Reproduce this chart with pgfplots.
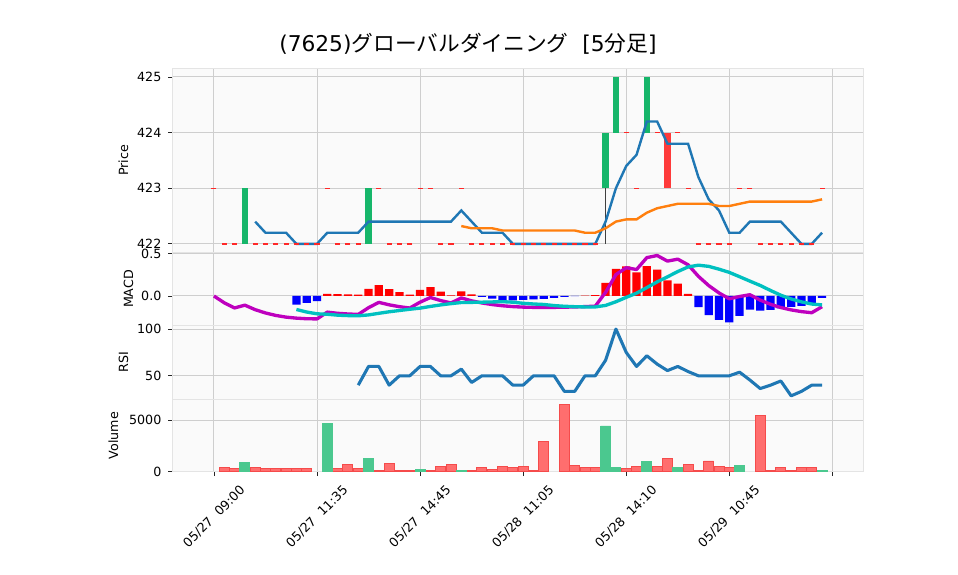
\documentclass[border=0pt]{standalone}
\usepackage{fontspec}
\setmainfont{DejaVu Sans}
\newfontfamily\cjk{Noto Sans CJK JP}
\usepackage{pgfplots}
\pgfplotsset{compat=1.18}

\definecolor{bgc}{RGB}{250,250,250}
\definecolor{gridc}{RGB}{206,206,206}
\definecolor{framec}{RGB}{228,228,228}
\definecolor{upc}{RGB}{22,182,106}
\definecolor{downc}{RGB}{254,58,58}
\definecolor{dojic}{RGB}{255,40,40}
\definecolor{volup}{RGB}{75,200,143}
\definecolor{voldn}{RGB}{255,110,110}
\definecolor{voldnedge}{RGB}{245,75,75}
\definecolor{ma5c}{RGB}{31,119,180}
\definecolor{ma25c}{RGB}{255,127,14}
\definecolor{macdc}{RGB}{190,0,190}
\definecolor{sigc}{RGB}{0,192,192}

\newcommand{\lblfont}{\fontsize{9.5}{11}\selectfont}

% positions below are in pt (1 px of the 958x575 picture = 0.75pt)
\pgfplotsset{
  panel/.style={
    scale only axis, width=517.95pt, xmin=-4, xmax=63,
    anchor=north west,
    axis background/.style={fill=bgc},
    axis line style={draw=framec, line width=0.6pt},
    xtick={0,10,...,60}, xticklabels={},
    grid=major, major grid style={draw=gridc, line width=0.75pt},
    tick align=outside, ytick pos=left, xtick pos=bottom,
    major tick length=3.3pt,
    tick style={draw=black!85, line width=0.6pt},
    xtick style={draw=none},
    yticklabel style={font=\lblfont, inner sep=0pt, anchor=east, xshift=-5pt},
    /pgf/number format/assume math mode=true,
  },
}

\begin{document}
\begin{tikzpicture}
\path[use as bounding box] (0pt,0pt) rectangle (718.5pt,-431.25pt);

% ---- price panel
\begin{axis}[panel, at={(129.525pt,-51.45pt)}, height=137.7pt,
    ymin=421.85, ymax=425.15, ytick={422,423,424,425}]
  % doji candles
  \addplot[only marks, mark=-, mark size=1.9pt, mark options={dojic, line width=1pt}]
    coordinates {(0,423) (1,422) (2,422) (4,422) (5,422) (6,422) (7,422) (8,422)
      (9,422) (10,422) (11,423) (12,422) (13,422) (14,422) (16,423) (17,422)
      (18,422) (19,422) (20,423) (21,423) (22,422) (23,422) (24,423) (25,422)
      (26,422) (27,422) (28,422) (29,422) (30,422) (31,422) (32,422) (33,422)
      (34,422) (35,422) (36,422) (37,422) (40,424) (41,423) (43,424) (45,424)
      (46,423) (47,422) (48,422) (49,422) (50,422) (51,423) (52,423) (53,422)
      (54,422) (55,422) (56,422) (57,422) (58,422) (59,423)};
  % wick
  \addplot[black!75, line width=0.75pt, mark=none] coordinates {(38,422) (38,423)};
  % bodies
  \addplot[upc, line width=4.9pt, mark=none] coordinates {(3,422) (3,423)};
  \addplot[upc, line width=4.9pt, mark=none] coordinates {(15,422) (15,423)};
  \addplot[upc, line width=4.9pt, mark=none] coordinates {(38,423) (38,424)};
  \addplot[upc, line width=4.9pt, mark=none] coordinates {(39,424) (39,425)};
  \addplot[upc, line width=4.9pt, mark=none] coordinates {(42,424) (42,425)};
  \addplot[downc, line width=4.9pt, mark=none] coordinates {(44,424) (44,423)};
  % moving averages
  \addplot[ma5c, line width=1.8pt, mark=none] coordinates {
    (4,422.4) (5,422.2) (6,422.2) (7,422.2) (8,422) (9,422) (10,422) (11,422.2)
    (12,422.2) (13,422.2) (14,422.2) (15,422.4) (16,422.4) (17,422.4) (18,422.4)
    (19,422.4) (20,422.4) (21,422.4) (22,422.4) (23,422.4) (24,422.6) (25,422.4)
    (26,422.2) (27,422.2) (28,422.2) (29,422) (30,422) (31,422) (32,422) (33,422)
    (34,422) (35,422) (36,422) (37,422) (38,422.4) (39,423) (40,423.4) (41,423.6)
    (42,424.2) (43,424.2) (44,423.8) (45,423.8) (46,423.8) (47,423.2) (48,422.8)
    (49,422.6) (50,422.2) (51,422.2) (52,422.4) (53,422.4) (54,422.4) (55,422.4)
    (56,422.2) (57,422) (58,422) (59,422.2)};
  \addplot[ma25c, line width=1.8pt, mark=none] coordinates {
    (24,422.32) (25,422.28) (26,422.28) (27,422.28) (28,422.24) (29,422.24)
    (30,422.24) (31,422.24) (32,422.24) (33,422.24) (34,422.24) (35,422.24)
    (36,422.20) (37,422.20) (38,422.28) (39,422.40) (40,422.44) (41,422.44)
    (42,422.56) (43,422.64) (44,422.68) (45,422.72) (46,422.72) (47,422.72)
    (48,422.72) (49,422.68) (50,422.68) (51,422.72) (52,422.76) (53,422.76)
    (54,422.76) (55,422.76) (56,422.76) (57,422.76) (58,422.76) (59,422.80)};
\end{axis}

% ---- MACD panel
\begin{axis}[panel, at={(129.525pt,-189.15pt)}, height=55.1pt,
    ymin=-0.3497, ymax=0.5159, ytick={0,0.5},
    yticklabel={\pgfmathprintnumber[fixed, fixed zerofill, precision=1]{\tick}}]
  \addplot[ybar, bar width=0.8, bar shift=0pt, fill=red, draw=none] coordinates {
    (11,0.026) (12,0.022) (13,0.019) (14,0.016) (15,0.085) (16,0.129) (17,0.082)
    (18,0.045) (19,0.015) (20,0.071) (21,0.105) (22,0.051) (23,0.008) (24,0.054)
    (25,0.019) (36,0.004) (37,0.009) (38,0.155) (39,0.320) (40,0.349) (41,0.279)
    (42,0.353) (43,0.311) (44,0.185) (45,0.146) (46,0.025)};
  \addplot[ybar, bar width=0.8, bar shift=0pt, fill=blue, draw=none] coordinates {
    (8,-0.102) (9,-0.080) (10,-0.061) (26,-0.009) (27,-0.031) (28,-0.048)
    (29,-0.052) (30,-0.045) (31,-0.040) (32,-0.035) (33,-0.022) (34,-0.011)
    (35,-0.003) (47,-0.131) (48,-0.226) (49,-0.280) (50,-0.310) (51,-0.233)
    (52,-0.161) (53,-0.173) (54,-0.164) (55,-0.145) (56,-0.129) (57,-0.115)
    (58,-0.103) (59,-0.021)};
  \addplot[macdc, line width=2.5pt, mark=none, line join=round] coordinates {
    (0,0) (1,-0.080) (2,-0.141) (3,-0.108) (4,-0.161) (5,-0.200) (6,-0.229)
    (7,-0.249) (8,-0.261) (9,-0.268) (10,-0.270) (11,-0.190) (12,-0.204)
    (13,-0.212) (14,-0.217) (15,-0.138) (16,-0.075) (17,-0.104) (18,-0.126)
    (19,-0.142) (20,-0.073) (21,-0.018) (22,-0.054) (23,-0.082) (24,-0.023)
    (25,-0.057) (26,-0.082) (27,-0.101) (28,-0.115) (29,-0.125) (30,-0.131)
    (31,-0.134) (32,-0.135) (33,-0.134) (34,-0.132) (35,-0.129) (36,-0.125)
    (37,-0.120) (38,0.044) (39,0.252) (40,0.333) (41,0.312) (42,0.452) (43,0.477)
    (44,0.411) (45,0.434) (46,0.368) (47,0.232) (48,0.123) (49,0.036) (50,-0.033)
    (51,-0.006) (52,0.015) (53,-0.049) (54,-0.098) (55,-0.136) (56,-0.164)
    (57,-0.184) (58,-0.197) (59,-0.126)};
  \addplot[sigc, line width=2.5pt, mark=none, line join=round] coordinates {
    (8,-0.159) (9,-0.189) (10,-0.210) (11,-0.215) (12,-0.226) (13,-0.231)
    (14,-0.233) (15,-0.223) (16,-0.204) (17,-0.186) (18,-0.171) (19,-0.156)
    (20,-0.143) (21,-0.123) (22,-0.105) (23,-0.090) (24,-0.077) (25,-0.075)
    (26,-0.073) (27,-0.070) (28,-0.067) (29,-0.073) (30,-0.086) (31,-0.094)
    (32,-0.100) (33,-0.113) (34,-0.121) (35,-0.126) (36,-0.129) (37,-0.129)
    (38,-0.111) (39,-0.068) (40,-0.016) (41,0.033) (42,0.099) (43,0.166)
    (44,0.226) (45,0.288) (46,0.342) (47,0.363) (48,0.349) (49,0.316) (50,0.278)
    (51,0.227) (52,0.175) (53,0.124) (54,0.065) (55,0.009) (56,-0.035)
    (57,-0.069) (58,-0.095) (59,-0.105)};
\end{axis}

% ---- RSI panel
\begin{axis}[panel, at={(129.525pt,-244.275pt)}, height=55.1pt,
    ymin=25.0, ymax=103.57, ytick={50,100}]
  \addplot[ma5c, line width=2.3pt, mark=none, line join=round] coordinates {
    (14,40) (15,60) (16,60) (17,40) (18,50) (19,50) (20,60) (21,60) (22,50)
    (23,50) (24,57.14) (25,42.86) (26,50) (27,50) (28,50) (29,40) (30,40)
    (31,50) (32,50) (33,50) (34,33.33) (35,33.33) (36,50) (37,50) (38,66.67)
    (39,100) (40,75) (41,60) (42,71.43) (43,62.5) (44,55.56) (45,60) (46,54.55)
    (47,50) (48,50) (49,50) (50,50) (51,53.85) (52,45.45) (53,36.36) (54,40)
    (55,44.44) (56,28.57) (57,33.33) (58,40) (59,40)};
\end{axis}

% ---- volume panel
\begin{axis}[panel, at={(129.525pt,-299.4pt)}, height=54.45pt,
    ymin=0, ymax=7050, ytick={0,5000},
    /pgf/number format/1000 sep={}, scaled y ticks=false,
    xtick style={draw=black!85, line width=0.6pt}]
  \addplot[ybar, bar width=0.97, bar shift=0pt, fill=voldn, draw=voldnedge, line width=0.7pt]
    coordinates {
    (1,400) (2,300) (4,400) (5,300) (6,300) (7,300) (8,300) (9,300) (12,300)
    (13,750) (14,300) (16,150) (17,850) (18,150) (19,120) (21,150) (22,550)
    (23,750) (25,150) (26,450) (27,250) (28,550) (29,450) (30,550) (31,150)
    (32,2900) (34,6500) (35,600) (36,400) (37,400) (40,320) (41,520) (43,520)
    (44,1300) (46,720) (47,150) (48,1050) (49,520) (50,420) (53,5500) (54,150)
    (55,420) (56,150) (57,420) (58,420)};
  \addplot[ybar, bar width=0.97, bar shift=0pt, fill=volup, draw=volup, line width=0.7pt]
    coordinates {
    (3,900) (11,4650) (15,1300) (20,250) (24,150) (38,4450) (39,420) (42,1040)
    (45,420) (51,620) (59,150)};
\end{axis}

% ---- titles and labels (pixel units of the reference)
\begin{scope}[x=0.75pt, y=0.75pt]
\node[font=\fontsize{16.3}{19}\selectfont] at (468,-44)
  {(7625){\cjk グローバルダイニング}\ \ [5{\cjk 分足}]};
\node[font=\lblfont, rotate=90] at (123.5,-160.5) {Price};
\node[font=\lblfont, rotate=90] at (128.5,-289) {MACD};
\node[font=\lblfont, rotate=90] at (123.5,-362.5) {RSI};
\node[font=\lblfont, rotate=90] at (113.5,-435.5) {Volume};
\foreach \tx/\lab in {214/{05/27\ \ 09:00}, 317/{05/27\ \ 11:35},
    420/{05/27\ \ 14:45}, 523/{05/28\ \ 11:05}, 626/{05/28\ \ 14:10},
    729/{05/29\ \ 10:45}}
  \node[font=\lblfont, rotate=45, anchor=north east, inner sep=0pt]
    at (\tx+25,-484) {\lab};
\end{scope}
\end{tikzpicture}
\end{document}
